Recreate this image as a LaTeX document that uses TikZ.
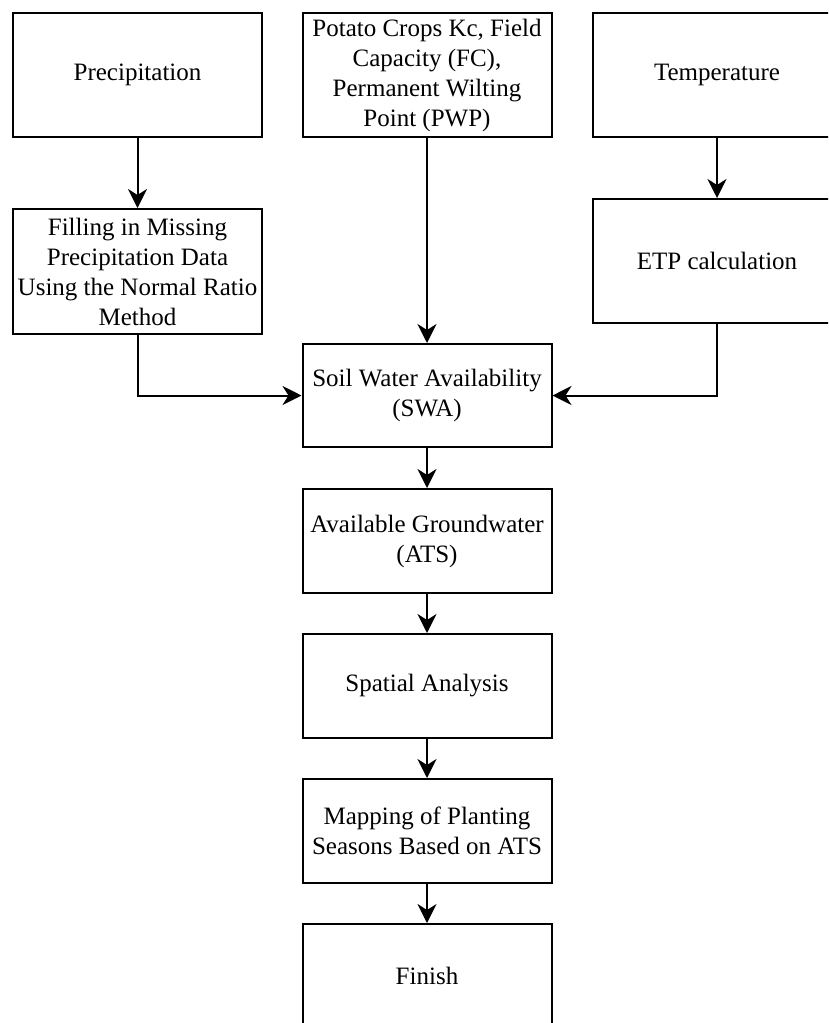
\documentclass[tikz,border=0pt]{standalone}
\usepackage{fontspec}
\setmainfont{Liberation Serif}
\usetikzlibrary{arrows.meta}

\tikzset{
	box/.style={draw,line width=2pt,minimum width=249pt,minimum height=#1,inner sep=1pt,align=center,font=\fontsize{25}{30}\selectfont},
	box/.default=104pt,
	flow/.style={line width=2pt,-{Stealth[length=19pt,width=19pt,inset=6pt]}}
}

\begin{document}
\begin{tikzpicture}[x=1pt,y=-1pt]
	\path[use as bounding box,clip] (0,0) rectangle (828,1023);
	% inputs
	\node[box=124pt] (prec) at (137.5,75) {Precipitation};
	\node[box=124pt] (crop) at (427,75) {Potato Crops Kc, Field\\Capacity (FC),\\Permanent Wilting\\Point (PWP)};
	\node[box=124pt] (temp) at (717,75) {Temperature};
	\node[box=125pt] (fill) at (137.5,271.5) {Filling in Missing\\Precipitation Data\\Using the Normal Ratio\\Method};
	\node[box=124pt] (etp) at (717,261) {ETP calculation};
	% main chain
	\node[box=103pt] (swa) at (427,395.5) {Soil Water Availability\\(SWA)};
	\node[box] (ats) at (427,541) {Available Groundwater\\(ATS)};
	\node[box] (spat) at (427,686) {Spatial Analysis};
	\node[box] (map) at (427,831) {Mapping of Planting\\Seasons Based on ATS};
	\node[box] (fin) at (427,976) {Finish};
	% connectors
	\draw[flow] (prec) -- (fill);
	\draw[flow] (temp) -- (etp);
	\draw[flow] (crop) -- (swa);
	\draw[flow] (fill.south) |- (swa.west);
	\draw[flow] (etp.south) |- (swa.east);
	\draw[flow] (swa) -- (ats);
	\draw[flow] (ats) -- (spat);
	\draw[flow] (spat) -- (map);
	\draw[flow] (map) -- (fin);
\end{tikzpicture}
\end{document}
